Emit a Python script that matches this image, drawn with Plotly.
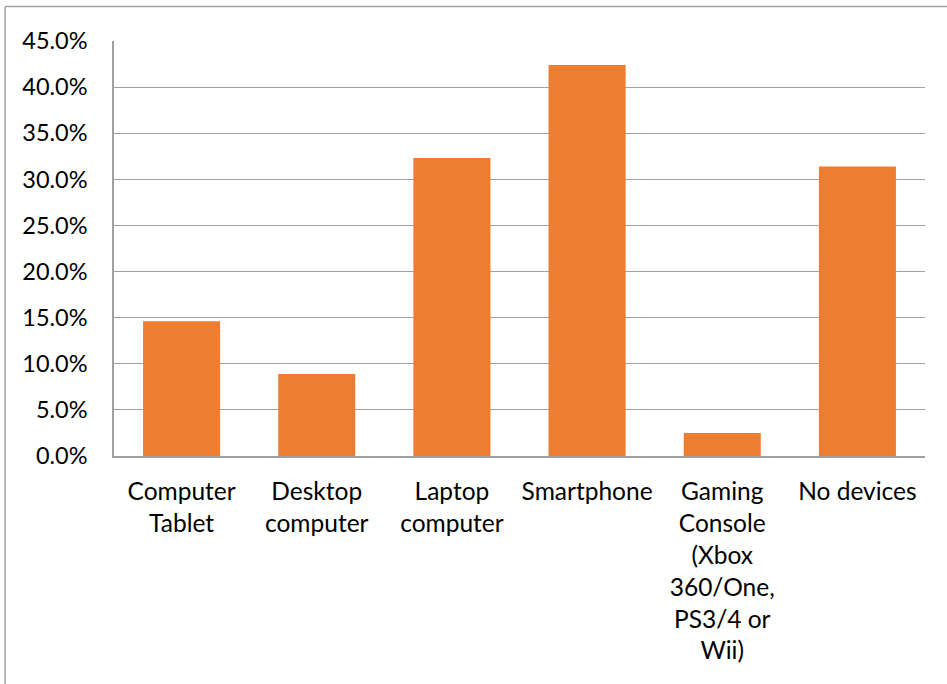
import plotly.graph_objects as go

categories = ["Computer<br>Tablet", "Desktop<br>computer", "Laptop<br>computer", "Smartphone",
              "Gaming<br>Console<br>(Xbox<br>360/One,<br>PS3/4 or<br>Wii)", "No devices"]
values = [0.146, 0.089, 0.323, 0.424, 0.025, 0.314]
y_ticks = [0, 0.05, 0.10, 0.15, 0.20, 0.25, 0.30, 0.35, 0.40, 0.45]

W, H = 947, 684
L, R, T, B = 113.5, 21.5, 41, 228
pw = W - L - R
ph = H - T - B

fig = go.Figure(go.Bar(x=categories, y=values, marker=dict(color="#ED7D31", line=dict(width=0)),
                       width=0.57))

fam = "Lato, Open Sans, sans-serif"
fig.update_layout(
    width=W, height=H,
    margin=dict(l=L, r=R, t=T, b=B, autoexpand=False),
    paper_bgcolor="white", plot_bgcolor="white",
    font=dict(family=fam, size=23, color="#000000"), showlegend=False, bargap=0.43,
    xaxis=dict(showline=True, linecolor="#a0a0a0", linewidth=1.5, showgrid=False,
               ticks="", tickangle=0, ticklabelstandoff=13, fixedrange=True,
               tickfont=dict(family=fam, size=24.5, color="#000000")),
    yaxis=dict(range=[0, 0.45], tickvals=y_ticks, tickformat=".1%", showline=True,
               linecolor="#a0a0a0", linewidth=1.5, showgrid=True, gridcolor="#a0a0a0",
               gridwidth=1.3, ticks="", ticklabelstandoff=20, zeroline=False, fixedrange=True,
               tickfont=dict(family=fam, size=23.5, color="#000000")),
)

# outer chart border (left and top visible)
xl = (4.5 - L) / pw
yt = (H - B - 6.5) / ph
fig.add_shape(type="line", xref="paper", yref="paper", x0=xl, x1=xl, y0=-2, y1=yt,
              line=dict(color="#a0a0a0", width=1.5))
fig.add_shape(type="line", xref="paper", yref="paper", x0=xl, x1=2, y0=yt, y1=yt,
              line=dict(color="#a0a0a0", width=1.5))

fig.write_html("out.html")
